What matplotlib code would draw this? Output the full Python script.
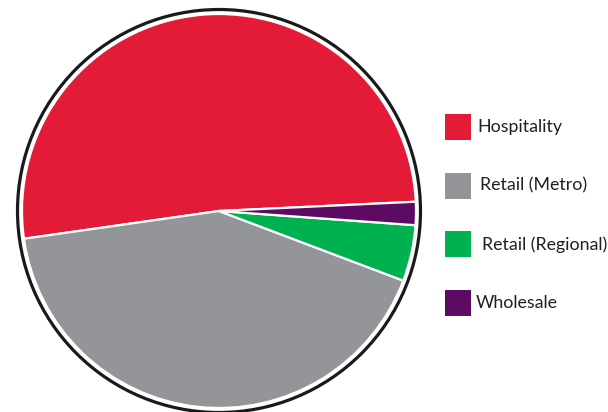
import matplotlib
matplotlib.use("Agg")
import matplotlib.pyplot as plt
from matplotlib.patches import Circle, Rectangle

# data
labels = ["Hospitality", "Retail (Metro)", "Retail (Regional)", "Wholesale"]
shares = [51.5, 42.0, 4.6, 1.9]
colors = ["#E31B37", "#939598", "#00B14F", "#5C0A62"]

W, H = 608, 412
fig = plt.figure(figsize=(W / 100, H / 100), dpi=100)
ax = fig.add_axes([0, 0, 1, 1])

cx, cy = 219, H - 211
ax.pie(shares, colors=colors, startangle=2.7, counterclock=True,
       center=(cx, cy), radius=197,
       wedgeprops=dict(edgecolor="white", linewidth=1.6))

# dark outer ring
ax.add_patch(Circle((cx, cy), 201.5, fill=False, edgecolor="#1a1a1a", linewidth=2.3))

ax.set_xlim(0, W)
ax.set_ylim(0, H)
ax.set_aspect("equal")
ax.axis("off")

# legend drawn by hand
nudge = [0, 3, 5, -1]
for i, (lab, col) in enumerate(zip(labels, colors)):
    top = 114 + i * 58.7
    ax.add_patch(Rectangle((445, H - top - 26), 26, 26, facecolor=col, edgecolor="none"))
    ax.text(477 + nudge[i], H - top - 13, lab, fontsize=12.8, family="Lato",
            color="#231f20", va="center", ha="left")

fig.savefig("out.png", dpi=100)
